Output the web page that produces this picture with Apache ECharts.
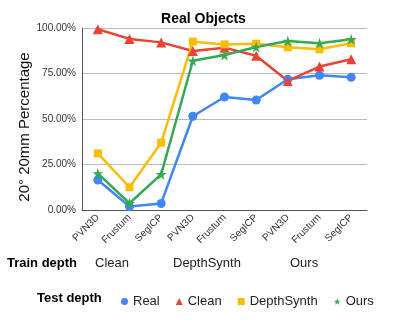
<!DOCTYPE html>
<html>
<head>
<meta charset="utf-8">
<script src="https://cdn.jsdelivr.net/npm/echarts@6/dist/echarts.min.js"></script>
<style>
  html, body { margin: 0; padding: 0; background: #fff; }
  #chart { width: 407px; height: 323px; }
</style>
</head>
<body>
<div id="chart"></div>
<script>
// categories (method per train-depth group)
var categories = ['PVN3D', 'Frustum', 'SegICP', 'PVN3D', 'Frustum', 'SegICP', 'PVN3D', 'Frustum', 'SegICP'];
var trainGroups = ['Clean', 'DepthSynth', 'Ours'];
var yTicks = [0, 25, 50, 75, 100];

// test depth series (percent)
var realValues = [16.5, 1.9, 3.6, 51.5, 62.1, 60.4, 71.8, 74.0, 72.9];
var cleanValues = [99.3, 94.0, 92.1, 87.4, 89.2, 84.8, 70.9, 78.8, 82.8];
var depthSynthValues = [31.1, 12.5, 37.0, 92.5, 91.0, 91.4, 89.4, 88.3, 91.6];
var oursValues = [20.1, 3.7, 19.6, 82.0, 85.2, 89.6, 92.9, 91.6, 93.8];

var starPath = 'path://M50,0 L61,35 L98,35 L68,57 L79,91 L50,70 L21,91 L32,57 L2,35 L39,35 Z';
var font = 'Liberation Sans';

var chart = echarts.init(document.getElementById('chart'));

function makeSeries(name, data, color, symbol, size) {
  return {
    name: name,
    type: 'line',
    data: data,
    symbol: symbol,
    symbolSize: size,
    lineStyle: { color: color, width: 2.5 },
    itemStyle: { color: color },
    emphasis: { disabled: true }
  };
}

var option = {
  animation: false,
  title: {
    text: 'Real Objects',
    left: 'center',
    top: 7,
    textStyle: { fontSize: 14, fontWeight: 'bold', color: '#000', fontFamily: font }
  },
  grid: { left: 82, right: 40, top: 28, bottom: 113 },
  legend: {
    left: 116,
    top: 290,
    itemWidth: 7,
    itemHeight: 7,
    itemGap: 16,
    textStyle: { fontSize: 13, color: '#222', fontFamily: font },
    data: [
      { name: 'Real', icon: 'circle' },
      { name: 'Clean', icon: 'triangle' },
      { name: 'DepthSynth', icon: 'rect' },
      { name: 'Ours', icon: starPath }
    ]
  },
  xAxis: {
    type: 'category',
    data: categories,
    boundaryGap: true,
    axisLine: { lineStyle: { color: '#555', width: 1 } },
    axisTick: { show: false },
    axisLabel: { rotate: 45, fontSize: 10, color: '#333', margin: 6, interval: 0, fontFamily: font }
  },
  yAxis: {
    type: 'value',
    min: yTicks[0],
    max: yTicks[yTicks.length - 1],
    interval: 25,
    axisLine: { show: true, lineStyle: { color: '#555', width: 1 } },
    axisTick: { show: false },
    splitLine: { lineStyle: { color: '#bbb', width: 1 } },
    axisLabel: {
      fontSize: 10, color: '#333', margin: 6, fontFamily: font,
      formatter: function (v) { return v.toFixed(2) + '%'; }
    }
  },
  graphic: [
    {
      type: 'text', x: 25, y: 127, rotation: Math.PI / 2,
      style: { text: '20° 20mm Percentage', fontSize: 15, fill: '#111', fontFamily: font, align: 'center', verticalAlign: 'middle' }
    },
    { type: 'text', left: 7, top: 257, style: { text: 'Train depth', fontSize: 13, fontWeight: 'bold', fill: '#000', fontFamily: font } },
    { type: 'text', left: 95, top: 257, style: { text: trainGroups[0], fontSize: 13, fill: '#222', fontFamily: font } },
    { type: 'text', left: 173, top: 257, style: { text: trainGroups[1], fontSize: 13, fill: '#222', fontFamily: font } },
    { type: 'text', left: 290, top: 257, style: { text: trainGroups[2], fontSize: 13, fill: '#222', fontFamily: font } },
    { type: 'text', left: 37, top: 292, style: { text: 'Test depth', fontSize: 13, fontWeight: 'bold', fill: '#000', fontFamily: font } }
  ],
  series: [
    makeSeries('Real', realValues, '#4285F4', 'circle', 9),
    makeSeries('Clean', cleanValues, '#EA4335', 'triangle', 10),
    makeSeries('DepthSynth', depthSynthValues, '#FBBC04', 'rect', 8),
    makeSeries('Ours', oursValues, '#34A853', starPath, 11)
  ]
};

chart.setOption(option);
</script>
</body>
</html>
